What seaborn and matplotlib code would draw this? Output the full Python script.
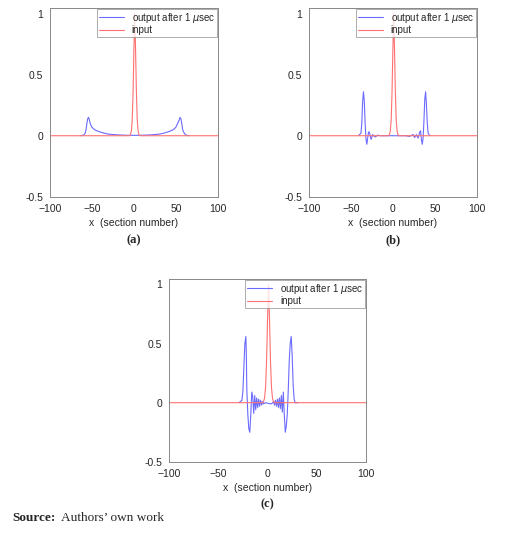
import matplotlib
matplotlib.use("Agg")
import matplotlib.pyplot as plt
import seaborn as sns

sns.set_style("white")
plt.rcParams['font.family'] = ['Liberation Sans', 'DejaVu Sans']

# input pulse (same for all panels)
in_x = [-100, -5, -4, -3, -2, -1, 0, 1, 2, 3, 4, 5, 6, 7, 100]
in_y = [0, 0, 0.01, 0.04, 0.13, 0.35, 0.7, 1.0, 0.7, 0.35, 0.13, 0.04, 0.01, 0, 0]

# (a) output
a_x = [-64, -60, -58, -57, -56, -55, -54, -53, -52, -50, -47, -44, -40, -35, -30, -20, -10, 0,
       10, 20, 30, 35, 40, 44, 47, 50, 52, 54, 55, 56, 57, 58, 60, 62, 66]
a_y = [0, 0.005, 0.02, 0.05, 0.1, 0.14, 0.15, 0.13, 0.1, 0.07, 0.05, 0.04, 0.03, 0.02, 0.013, 0.007, 0.004, 0.003,
       0.004, 0.007, 0.013, 0.02, 0.03, 0.04, 0.05, 0.07, 0.1, 0.13, 0.15, 0.14, 0.1, 0.05, 0.02, 0.005, 0]

# (b) output
b_x = [-41, -38, -37, -36, -35, -34, -33, -32, -31, -30, -29, -28, -27, -26, -25, -24, -23, -21, -18, -15, 0,
       15, 20, 24, 26, 28, 30, 32, 33, 34, 35, 36, 37, 38, 39, 40, 41, 42, 44]
b_y = [0, 0.02, 0.1, 0.28, 0.36, 0.28, 0.1, -0.03, -0.07, -0.02, 0.03, 0.03, 0, -0.03, -0.01, 0.01, 0, -0.01, 0.005, 0, 0,
       0, -0.005, 0.01, -0.015, 0.01, -0.02, 0.03, 0.04, -0.03, -0.07, -0.02, 0.12, 0.3, 0.36, 0.25, 0.1, 0.02, 0]

# (c) output
c_x = [-29, -26, -25, -24, -23, -22, -21.5, -21, -20, -19, -18, -17, -16, -15, -14, -13, -12, -11, -10, -9, -8, -7, -6,
       -5, -4, -2, 0, 4, 6, 7, 8, 9, 10, 11, 12, 13, 14, 15, 16, 17, 18, 19, 20, 21, 22, 23, 24, 25, 26, 27, 28, 31]
c_y = [0, 0.02, 0.1, 0.3, 0.5, 0.56, 0.4, 0.1, -0.1, -0.22, -0.25, -0.1, 0.09, 0.05, -0.09, 0.06, -0.06, 0.04, -0.04,
       0.03, -0.03, 0.02, -0.02, 0.01, -0.01, 0, -0.005, -0.01, 0.01, -0.02, 0.02, -0.03, 0.03, -0.04, 0.04, -0.05,
       0.06, -0.08, 0.09, -0.1, -0.25, -0.2, -0.1, 0.1, 0.35, 0.5, 0.56, 0.4, 0.15, 0.03, 0, 0]

fig = plt.figure(figsize=(5.2, 5.42), dpi=100)
panels = [
    ([0.096, 0.637, 0.323, 0.349], a_x, a_y, '(a)'),
    ([0.594, 0.637, 0.323, 0.349], b_x, b_y, '(b)'),
    ([0.325, 0.148, 0.379, 0.338], c_x, c_y, '(c)'),
]
for rect, ox, oy, lab in panels:
    ax = fig.add_axes(rect)
    sns.lineplot(x=ox, y=oy, ax=ax, color='#6b6bff', lw=0.8, label=r'output after 1 $\mu$sec')
    sns.lineplot(x=in_x, y=in_y, ax=ax, color='#ff7070', lw=0.8, label='input')
    ax.set_xlim(-100, 100)
    ax.set_ylim(-0.5, 1.05)
    ax.set_xticks([-100, -50, 0, 50, 100])
    ax.set_yticks([-0.5, 0, 0.5, 1])
    ax.set_yticklabels(['-0.5', '0', '0.5', '1'])
    ax.tick_params(direction='in', labelsize=7.5, length=2, pad=5, colors='#262626')
    for s in ax.spines.values():
        s.set_color('#888888')
        s.set_linewidth(0.7)
    ax.set_xlabel('x  (section number)', fontsize=7.5, labelpad=3)
    leg = ax.legend(loc='upper right', fontsize=7, frameon=True, fancybox=False,
                    borderpad=0.2, handlelength=2.6, labelspacing=0.1, borderaxespad=0.1)
    leg.get_frame().set_edgecolor('#888888')
    leg.get_frame().set_linewidth(0.6)
    ax.text(0.5, -0.2, lab, transform=ax.transAxes, ha='center', va='top',
            fontsize=9, fontweight='bold', family='Liberation Serif')

fig.text(0.023, 0.045, 'Source:', fontsize=9.5, fontweight='bold', family='Liberation Serif', va='center')
fig.text(0.118, 0.045, 'Authors\u2019 own work', fontsize=9.5, family='Liberation Serif', va='center')

fig.savefig('out.png', dpi=100)
